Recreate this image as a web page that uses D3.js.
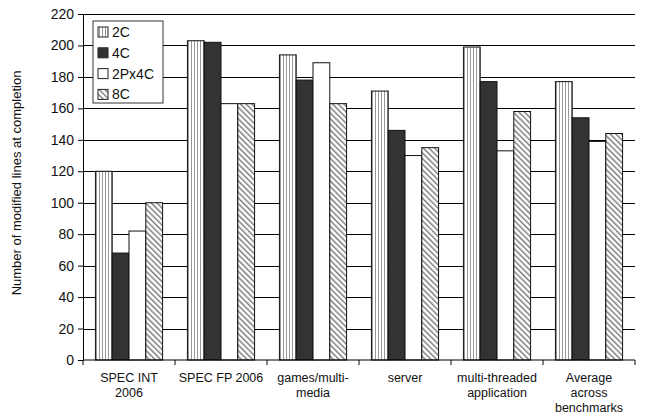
<!DOCTYPE html>
<html>
<head>
<meta charset="utf-8">
<script src="https://cdn.jsdelivr.net/npm/d3@7"></script>
<style>
  body { margin: 0; background: #fff; }
  text { font-family: "Liberation Sans", Arial, sans-serif; fill: #111; }
</style>
</head>
<body>
<div id="chart"></div>
<script>
var categories = [["SPEC INT", "2006"], ["SPEC FP 2006"], ["games/multi-", "media"], ["server"], ["multi-threaded", "application"], ["Average", "across", "benchmarks"]];
var series = ["2C", "4C", "2Px4C", "8C"];
var v2C = [120, 203, 194, 171, 199, 177];
var v4C = [68, 202, 178, 146, 177, 154];
var v2Px4C = [82, 163, 189, 130, 133, 139];
var v8C = [100, 163, 163, 135, 158, 144];
var yTicks = [0, 20, 40, 60, 80, 100, 120, 140, 160, 180, 200, 220];

var values = [v2C, v4C, v2Px4C, v8C];
var width = 646, height = 414;
var margin = {left: 83, right: 11, top: 14, bottom: 54};

var svg = d3.select("#chart").append("svg")
  .attr("width", width).attr("height", height);

var defs = svg.append("defs");
var pv = defs.append("pattern").attr("id", "p2c")
  .attr("patternUnits", "userSpaceOnUse").attr("width", 3).attr("height", 4);
pv.append("rect").attr("width", 3).attr("height", 4).attr("fill", "#fff");
pv.append("rect").attr("x", 1).attr("width", 1).attr("height", 4).attr("fill", "#999");
var pd = defs.append("pattern").attr("id", "p8c")
  .attr("patternUnits", "userSpaceOnUse").attr("width", 4).attr("height", 4)
  .attr("patternTransform", "rotate(-45)");
pd.append("rect").attr("width", 4).attr("height", 4).attr("fill", "#fff");
pd.append("rect").attr("width", 1.4).attr("height", 4).attr("fill", "#777");

var fills = ["url(#p2c)", "#333", "#fff", "url(#p8c)"];

var x = d3.scaleBand().domain(d3.range(categories.length))
  .range([margin.left, width - margin.right]);
var xi = d3.scaleBand().domain(series)
  .range([0, x.bandwidth()]).paddingOuter(0.74);
var y = d3.scaleLinear().domain([0, 220]).range([height - margin.bottom, margin.top]);

// gridlines
svg.append("g").selectAll("line").data(yTicks.slice(1)).enter().append("line")
  .attr("x1", margin.left).attr("x2", width - margin.right)
  .attr("y1", function(d){ return Math.round(y(d)) + 0.5; })
  .attr("y2", function(d){ return Math.round(y(d)) + 0.5; })
  .attr("stroke", "#000").attr("stroke-width", 1);

// bars
var groups = svg.append("g").selectAll("g").data(categories).enter().append("g")
  .attr("transform", function(d, i){ return "translate(" + x(i) + ",0)"; });
groups.selectAll("rect").data(function(d, i){
    return series.map(function(s, j){ return {s: s, j: j, v: values[j][i]}; });
  }).enter().append("rect")
  .attr("x", function(d){ return xi(d.s); })
  .attr("y", function(d){ return y(d.v); })
  .attr("width", xi.bandwidth())
  .attr("height", function(d){ return y(0) - y(d.v); })
  .attr("fill", function(d){ return fills[d.j]; })
  .attr("stroke", "#111").attr("stroke-width", 1);

// y axis
var yAxis = svg.append("g").attr("transform", "translate(" + margin.left + ",0)")
  .call(d3.axisLeft(y).tickValues(yTicks).tickSize(5).tickPadding(4));
yAxis.selectAll("text").style("font-size", "14px");
yAxis.selectAll("line, path").attr("stroke", "#000");

// x axis
var xAxis = svg.append("g").attr("transform", "translate(0," + y(0) + ")");
xAxis.append("line").attr("x1", margin.left).attr("x2", width - margin.right)
  .attr("stroke", "#000");
xAxis.selectAll("line.tk").data(d3.range(categories.length + 1)).enter().append("line")
  .attr("class", "tk")
  .attr("x1", function(d){ return margin.left + d * x.step(); })
  .attr("x2", function(d){ return margin.left + d * x.step(); })
  .attr("y2", 5).attr("stroke", "#000");
var lab = xAxis.selectAll("text").data(categories).enter().append("text")
  .attr("text-anchor", "middle").style("font-size", "12.5px")
  .attr("transform", function(d, i){ return "translate(" + (x(i) + x.bandwidth() / 2) + ",22)"; });
lab.selectAll("tspan").data(function(d){ return d; }).enter().append("tspan")
  .attr("x", 0).attr("dy", function(d, i){ return i === 0 ? 0 : 15; })
  .text(function(d){ return d; });

// y title
svg.append("text").attr("text-anchor", "middle").style("font-size", "13px")
  .attr("transform", "translate(21,183) rotate(-90)")
  .text("Number of modified lines at completion");

// legend
var lg = svg.append("g").attr("transform", "translate(93,21)");
lg.append("rect").attr("width", 70).attr("height", 82)
  .attr("fill", "#fff").attr("stroke", "#333");
var li = lg.selectAll("g").data(series).enter().append("g")
  .attr("transform", function(d, i){ return "translate(5," + (6 + i * 20.8) + ")"; });
li.append("rect").attr("width", 10).attr("height", 10)
  .attr("fill", function(d, i){ return fills[i]; }).attr("stroke", "#222");
li.append("text").attr("x", 14).attr("y", 10).style("font-size", "14px")
  .text(function(d){ return d; });
</script>
</body>
</html>
